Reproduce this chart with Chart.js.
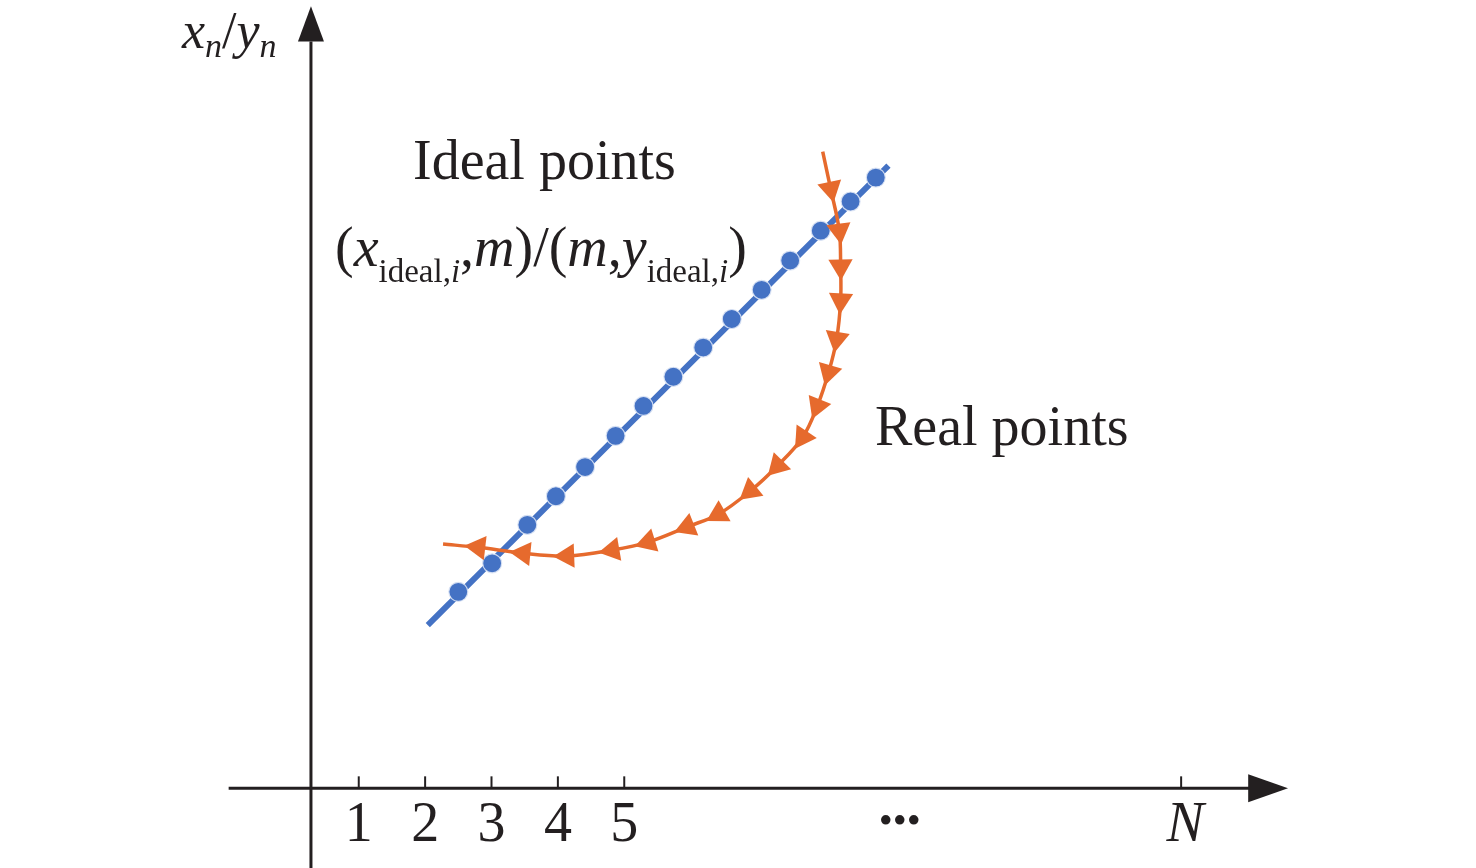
<!DOCTYPE html>
<html lang="en">
<head>
    <meta charset="UTF-8">
    <title>Ideal points and real points</title>
    <script src="https://cdn.jsdelivr.net/npm/chart.js"></script>
    <style>
        html, body { margin: 0; padding: 0; background: #fff; }
        #wrap { width: 1476px; height: 868px; }
    </style>
</head>
<body>
    <div id="wrap">
        <canvas id="myChart"></canvas>
    </div>

    <script>
        // horizontal axis ticks (axis units, 1 unit = one sample step)
        const xTickValues = [1, 2, 3, 4, 5, 13.39];
        const xTickLabels = ['1', '2', '3', '4', '5', 'N'];
        const dotsAt = 9.15;

        // blue line ends
        const lineX = [2.04, 8.98];
        const lineY = [2.46, 9.38];

        // ideal points (blue dots)
        const idealX = [2.50, 3.01, 3.54, 3.97, 4.41, 4.87, 5.29, 5.74, 6.19, 6.62, 7.07, 7.50, 7.96, 8.41, 8.79];
        const idealY = [2.96, 3.39, 3.97, 4.40, 4.84, 5.31, 5.76, 6.20, 6.64, 7.07, 7.51, 7.95, 8.40, 8.84, 9.20];

        // real points (orange path); first and last are only line ends
        const realX = [7.99, 8.11, 8.24, 8.26, 8.26, 8.20, 8.08, 7.91, 7.69, 7.31, 6.90, 6.42, 5.95, 5.36, 4.82, 4.14, 3.48, 2.80, 2.27];
        const realY = [9.59, 9.03, 8.40, 7.86, 7.35, 6.77, 6.27, 5.76, 5.29, 4.86, 4.48, 4.13, 3.94, 3.71, 3.59, 3.50, 3.54, 3.63, 3.68];

        const blue = '#4472C4';
        const orange = '#E66A2D';
        const ink = '#231F20';
        const serif = '"Liberation Serif", "Times New Roman", serif';

        const toPts = (xs, ys) => xs.map((x, i) => ({ x: x, y: ys[i] }));

        // arrow heads follow the path direction
        function arrowRotation(ctx) {
            const d = ctx.dataset.data;
            const i = ctx.dataIndex;
            const a = d[Math.max(i - 1, 0)];
            const b = d[Math.min(i + 1, d.length - 1)];
            return Math.atan2(b.x - a.x, b.y - a.y) * 180 / Math.PI;
        }

        // axes, arrows, ticks and the text notes
        const schemePlugin = {
            id: 'scheme',
            afterDraw(chart) {
                const c = chart.ctx;
                const xs = chart.scales.x;
                const ys = chart.scales.y;
                const X = v => xs.getPixelForValue(v);
                const Y = v => ys.getPixelForValue(v);
                const x0 = X(0.28);
                const y0 = Y(0);

                c.save();
                c.strokeStyle = ink;
                c.fillStyle = ink;
                c.lineWidth = 3;

                // x axis
                c.beginPath();
                c.moveTo(X(-0.96), y0);
                c.lineTo(X(14.45), y0);
                c.stroke();
                c.beginPath();
                c.moveTo(X(15), y0);
                c.lineTo(X(14.4), y0 - 14);
                c.lineTo(X(14.4), y0 + 14);
                c.closePath();
                c.fill();

                // y axis
                c.beginPath();
                c.moveTo(x0, Y(-1.2));
                c.lineTo(x0, Y(11.25));
                c.stroke();
                c.beginPath();
                c.moveTo(x0, Y(11.78));
                c.lineTo(x0 - 13, Y(11.25));
                c.lineTo(x0 + 13, Y(11.25));
                c.closePath();
                c.fill();

                // tick marks and labels
                c.lineWidth = 2;
                c.textAlign = 'center';
                c.textBaseline = 'alphabetic';
                xTickValues.forEach((v, i) => {
                    const px = X(v);
                    c.beginPath();
                    c.moveTo(px, y0);
                    c.lineTo(px, y0 - 12);
                    c.stroke();
                    const lab = xTickLabels[i];
                    c.font = (lab === 'N' ? 'italic ' : '') + '56px ' + serif;
                    c.fillText(lab, px + (lab === 'N' ? 4 : 0), y0 + 53);
                });
                c.font = '40px ' + serif;
                c.fillText('•••', X(dotsAt), y0 + 46);

                // axis title x_n / y_n
                c.textAlign = 'left';
                const runs = (x, y, parts) => {
                    parts.forEach(p => {
                        c.font = p[1];
                        c.fillText(p[0], x, y + (p[2] || 0));
                        x += c.measureText(p[0]).width;
                    });
                };
                const big = '56px ' + serif, bigI = 'italic 56px ' + serif;
                const sub = '33px ' + serif, subI = 'italic 33px ' + serif;
                runs(182, 48, [
                    ['x', 'italic 52px ' + serif], ['n', 'italic 34px ' + serif, 9],
                    ['/', '52px ' + serif],
                    ['y', 'italic 52px ' + serif], ['n', 'italic 34px ' + serif, 9]
                ]);

                // notes
                c.font = big;
                c.fillText('Ideal points', 413, 179);
                c.fillText('Real points', 875, 445);
                runs(335, 266, [
                    ['(', big], ['x', bigI], ['ideal,', sub, 16], ['i', subI, 16],
                    [',', big], ['m', bigI], [')/(', big], ['m', bigI], [',', big],
                    ['y', bigI], ['ideal,', sub, 16], ['i', subI, 16], [')', big]
                ]);
                c.restore();
            }
        };

        const data = {
            datasets: [
                {
                    label: 'Real points',
                    data: toPts(realX, realY),
                    borderColor: orange,
                    backgroundColor: orange,
                    borderWidth: 3.5,
                    tension: 0.35,
                    pointStyle: 'triangle',
                    pointRadius: ctx => (ctx.dataIndex === 0 || ctx.dataIndex === realX.length - 1) ? 0 : 14,
                    pointBorderWidth: 0,
                    pointRotation: arrowRotation,
                    order: 1
                },
                {
                    label: 'Ideal points',
                    data: toPts(idealX, idealY),
                    showLine: false,
                    pointRadius: 9.5,
                    pointBackgroundColor: blue,
                    pointBorderColor: 'rgba(220,228,245,0.9)',
                    pointBorderWidth: 1.2,
                    order: 2
                },
                {
                    label: 'Ideal line',
                    data: toPts(lineX, lineY),
                    borderColor: blue,
                    borderWidth: 6,
                    pointRadius: 0,
                    order: 3
                }
            ]
        };

        const config = {
            type: 'line',
            data: data,
            options: {
                responsive: true,
                maintainAspectRatio: false,
                animation: false,
                events: [],
                layout: {
                    autoPadding: false,
                    padding: { left: 226, right: 188, top: 5, bottom: 0 }
                },
                scales: {
                    x: { type: 'linear', min: -1, max: 15, display: false },
                    y: { type: 'linear', min: -1.2, max: 11.8, display: false }
                },
                plugins: {
                    legend: { display: false },
                    tooltip: { enabled: false }
                }
            },
            plugins: [schemePlugin]
        };

        new Chart(document.getElementById('myChart'), config);
    </script>
</body>
</html>
